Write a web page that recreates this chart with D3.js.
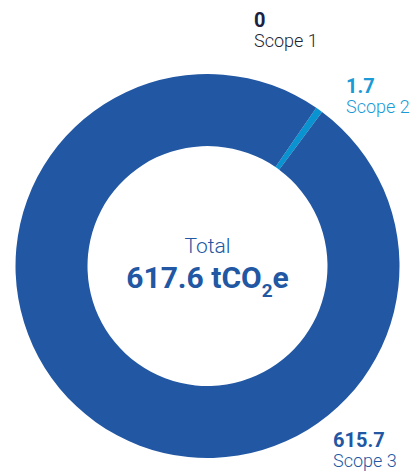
<!DOCTYPE html>
<head>
<meta charset="UTF-8">
<script src="https://d3js.org/d3.v7.min.js"></script>
<style>
  body { margin: 0; background: #fff; font-family: Roboto, "Open Sans", sans-serif; }
  svg { display: block; }
</style>
</head>
<body>
<div id="chart"></div>
<script>
  // data
  var scopes = ["Scope 1", "Scope 2", "Scope 3"];
  var values = [0, 1.7, 615.7];
  var valueLabels = ["0", "1.7", "615.7"];
  var totalLabel = "617.6";

  var colors = ["#1b2140", "#0a93d1", "#2157a3"];
  var textColors = ["#1b2140", "#1a9ad6", "#2157a3"];

  var width = 419, height = 472;
  var cx = 207.5, cy = 266, outer = 192, inner = 120;

  var svg = d3.select("#chart").append("svg")
      .attr("width", width)
      .attr("height", height);

  var g = svg.append("g").attr("transform", "translate(" + cx + "," + cy + ")");

  var total = d3.sum(values);
  var deg = Math.PI / 180;

  // very small slices get a minimum angle so they stay visible
  var pie = d3.pie()
      .sort(null)
      .value(function(d) { return d > 0 ? Math.max(d, total * 0.006) : 0; })
      .startAngle(34.5 * deg)
      .endAngle(34.5 * deg + 2 * Math.PI);

  var arc = d3.arc().innerRadius(inner).outerRadius(outer);

  g.selectAll("path")
      .data(pie(values))
      .enter().append("path")
      .attr("d", arc)
      .attr("fill", function(d, i) { return colors[i]; });

  // centre text
  g.append("text")
      .attr("text-anchor", "middle")
      .attr("y", -13)
      .attr("fill", "#2157a3")
      .style("font-size", "21px")
      .style("font-weight", "300")
      .text("Total");

  var t = g.append("text")
      .attr("text-anchor", "middle")
      .attr("y", 22)
      .attr("fill", "#2157a3")
      .style("font-size", "30px")
      .style("font-weight", "bold");
  t.append("tspan").text(totalLabel + " tCO");
  t.append("tspan").attr("dy", 9).style("font-size", "19px").text("2");
  t.append("tspan").attr("dy", -9).text("e");

  // scope labels
  var labelPos = [[254, 27], [346, 93], [333, 447]];
  var lab = svg.selectAll("g.lab")
      .data(scopes)
      .enter().append("g")
      .attr("class", "lab")
      .attr("transform", function(d, i) { return "translate(" + labelPos[i][0] + "," + labelPos[i][1] + ")"; });

  lab.append("text")
      .attr("fill", function(d, i) { return textColors[i]; })
      .style("font-size", "20px")
      .style("font-weight", "bold")
      .text(function(d, i) { return valueLabels[i]; });

  lab.append("text")
      .attr("y", 20)
      .attr("fill", function(d, i) { return i === 0 ? "#222433" : textColors[i]; })
      .style("font-size", "18px")
      .style("font-weight", "300")
      .text(function(d) { return d; });
</script>
</body>
